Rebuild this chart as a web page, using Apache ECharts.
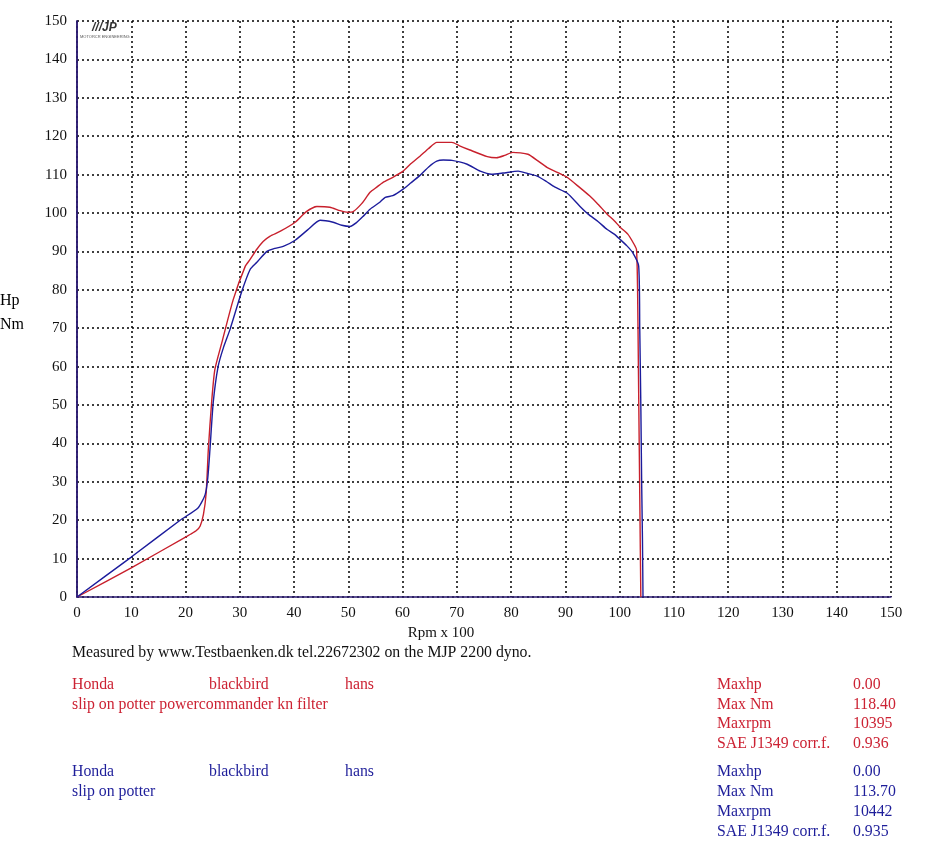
<!DOCTYPE html>
<html>
<head>
<meta charset="utf-8">
<script src="https://cdn.jsdelivr.net/npm/echarts@6/dist/echarts.min.js"></script>
<style>
html,body{margin:0;padding:0;background:#fff;}
#chart{width:929px;height:863px;}
</style>
</head>
<body>
<div id="chart"></div>
<script>
// ---- data (rpm x 100, Nm) ----
var redRpm = [0,10,20,21,22,22.7,23.3,23.8,24.2,24.8,25.4,26.7,28.8,31,31.9,33.1,34.3,35.6,37.4,40.2,42.2,44.2,46.6,48.5,49.9,50.8,52.5,54,55.3,56.4,58.2,60.1,61.5,63.2,64.8,66.3,69.1,70.5,72.4,75.6,77.3,78.8,80.3,83.1,85,86.6,88.5,90.3,92.5,94.5,96,97.7,99,100.1,101.5,102.6,103.1,103.3,103.45,103.6,103.75,103.9];
var redNm  = [0,7.6,15.6,16.4,17.3,18.5,21.5,27,38.4,50.6,59.2,66.3,77.5,86.1,87.9,90.5,92.6,94,95.2,97.6,100.3,101.7,101.5,100.6,100.2,100.3,102.5,105.4,106.8,108,109.3,110.9,112.8,114.8,116.8,118.4,118.4,117.5,116.4,114.7,114.4,115,115.8,115.3,113.5,111.9,110.6,109.3,106.8,104.4,102.3,99.7,98,96.3,94.5,92,90.5,80,60,40,20,0];
var blueRpm = [0,10,19,22.3,23.6,24.1,24.5,25.1,26,27,28.2,30.3,31.9,33.1,35,36.5,38,40.2,42.5,44.8,47.2,48.8,50.3,51.5,52.7,54,55.8,56.8,58.2,60.1,61.5,63.2,64.8,66.3,67.5,69.1,71.9,74.3,76.4,78.5,81.3,83,84.8,86.5,88,90.3,92.7,94.2,96,97.7,99,100.1,101.3,102.4,103.5,103.7,103.9,104.05,104.2,104.3];
var blueNm  = [0,10.4,20,23.2,26.6,31,38.4,50.6,60,65,69.7,79.3,85.3,87.1,90,90.8,91.3,92.9,95.6,98.1,97.6,96.8,96.5,97.5,99.1,101,102.8,104.1,104.5,106.2,107.8,109.8,112,113.5,113.8,113.7,112.7,110.9,110.1,110.4,110.9,110.3,109.6,108.2,106.8,105.2,101.7,99.7,97.8,95.7,94.5,93.1,91.5,89.7,86.2,70,50,30,15,0];
var xTicks = [0,10,20,30,40,50,60,70,80,90,100,110,120,130,140,150];
var yTicks = [0,10,20,30,40,50,60,70,80,90,100,110,120,130,140,150];

var redInfo  = ["Honda","blackbird","hans","slip on potter powercommander kn filter"];
var blueInfo = ["Honda","blackbird","hans","slip on potter"];
var statLabels = ["Maxhp","Max Nm","Maxrpm","SAE J1349 corr.f."];
var redStats  = ["0.00","118.40","10395","0.936"];
var blueStats = ["0.00","113.70","10442","0.935"];
var footer = "Measured by www.Testbaenken.dk tel.22672302 on the MJP 2200 dyno.";

function zip(a,b){ return a.map(function(v,i){ return [v,b[i]]; }); }

var FONT = "Liberation Serif";
var RED = "#c8202c", BLUE = "#1c1c9c", TRED = "#cc2233", TBLUE = "#1e1e9a", AXIS = "#2a1a70";

var chart = echarts.init(document.getElementById('chart'), null, {renderer:'canvas'});

function txt(x,cy,t,color,size){
  return {type:'text', x:x, y:cy, style:{text:t, fill:color, font:(size||15.8)+'px "'+FONT+'"', textVerticalAlign:'middle', verticalAlign:'middle'}};
}
var g = [];
g.push(txt(0,301,"Hp","#000",16));
g.push(txt(0,325,"Nm","#000",16));
g.push(txt(72,653,footer,"#111"));
var rowsR=[685,705], rowsB=[772,792], colX=[72,209,345];
for (var i=0;i<3;i++){ g.push(txt(colX[i],rowsR[0],redInfo[i],TRED)); g.push(txt(colX[i],rowsB[0],blueInfo[i],TBLUE)); }
g.push(txt(72,rowsR[1],redInfo[3],TRED));
g.push(txt(72,rowsB[1],blueInfo[3],TBLUE));
var sR=[685,705,724,744], sB=[772,792,812,832];
for (var j=0;j<4;j++){
  g.push(txt(717,sR[j],statLabels[j],TRED)); g.push(txt(853,sR[j],redStats[j],TRED));
  g.push(txt(717,sB[j],statLabels[j],TBLUE)); g.push(txt(853,sB[j],blueStats[j],TBLUE));
}
// small logo
g.push({type:'text', left:92, top:22, style:{text:"///JP", fill:"#333", font:'italic bold 12px "Liberation Sans"'}});
g.push({type:'text', left:80, top:35, style:{text:"MOTORCR ENGINEERING", fill:"#555", font:'4px "Liberation Sans"'}});

var option = {
  animation:false,
  backgroundColor:'#fff',
  grid:{left:77, right:38, top:21, bottom:266},
  xAxis:{
    type:'value', min:0, max:150, interval:10,
    name:'Rpm x 100', nameLocation:'middle', nameGap:24,
    nameTextStyle:{fontFamily:FONT, fontSize:15, color:'#111', padding:[0,86,0,0]},
    axisLine:{show:true, onZero:false, lineStyle:{color:AXIS, width:1.5}},
    axisTick:{show:false},
    axisLabel:{fontFamily:FONT, fontSize:15, color:'#111', margin:9,
      formatter:function(v){ return xTicks.indexOf(v)>=0 ? String(v) : ''; }},
    splitLine:{show:true, lineStyle:{color:'#000', type:[2,3], width:1.5}}
  },
  yAxis:[{
    type:'value', min:0, max:150, interval:10,
    axisLine:{show:true, onZero:false, lineStyle:{color:AXIS, width:1.5}},
    axisTick:{show:false},
    axisLabel:{fontFamily:FONT, fontSize:15, color:'#111', margin:10,
      formatter:function(v){ return yTicks.indexOf(v)>=0 ? String(v) : ''; }},
    splitLine:{show:true, lineStyle:{color:'#000', type:[2,3], width:1.5}}
  },{
    type:'value', min:0, max:150, interval:10, position:'right',
    axisLine:{show:true, lineStyle:{color:AXIS, width:1.5}},
    axisTick:{show:false}, axisLabel:{show:false}, splitLine:{show:false}
  }],
  series:[
    {type:'line', name:'red', data:zip(redRpm,redNm), showSymbol:false, smooth:0.2,
     lineStyle:{color:RED, width:1.4}, z:3},
    {type:'line', name:'blue', data:zip(blueRpm,blueNm), showSymbol:false, smooth:0.2,
     lineStyle:{color:BLUE, width:1.4}, z:4}
  ],
  graphic:g
};
chart.setOption(option);
</script>
</body>
</html>
